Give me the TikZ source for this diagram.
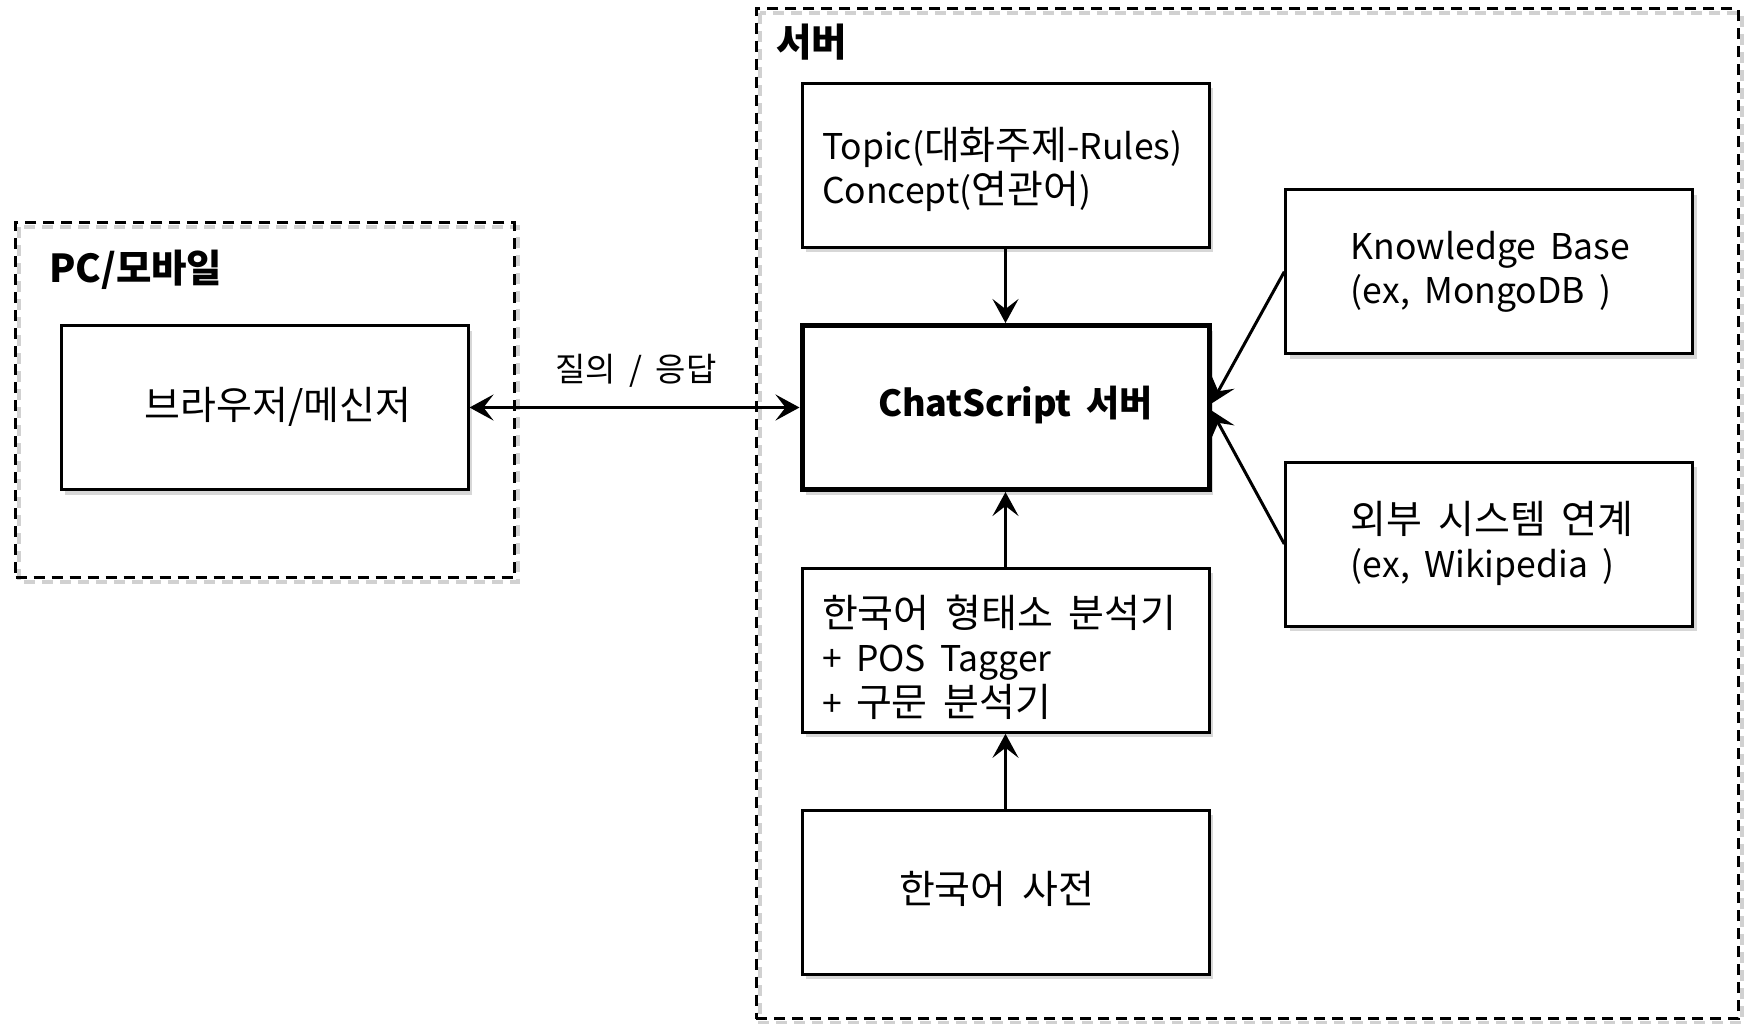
\documentclass[tikz,border=0pt]{standalone}
\usepackage{fontspec}
\setmainfont[WordSpace=1.8]{Noto Sans CJK KR}
\usetikzlibrary{arrows.meta,shadows}
\newcommand\hg[1]{{\fontsize{39}{44.5}\selectfont#1}}

\begin{document}
\begin{tikzpicture}[x=1pt,y=-1pt,
  box/.style={draw=black, line width=3pt, fill=white, minimum width=407pt, minimum height=164pt, inner sep=0pt,
    drop shadow={shadow xshift=4pt, shadow yshift=-5pt, fill=black!35, opacity=0.45}},
  mainbox/.style={box, line width=5pt},
  group/.style={draw=black, line width=3pt, dash pattern=on 11pt off 7pt, minimum width=#1, inner sep=0pt},
  groupshadow/.style={draw=black!18, line width=4pt, dash pattern=on 11pt off 7pt},
  txt/.style={font=\fontsize{35.5}{44.5}\selectfont, inner sep=0pt, align=left},
  boldtxt/.style={font=\fontsize{36}{44}\selectfont\bfseries, inner sep=0pt},
  grouptxt/.style={font=\fontsize{38.5}{44}\selectfont\bfseries, inner sep=0pt},
  small/.style={font=\fontsize{33}{38}\selectfont, inner sep=0pt},
  arr/.style={line width=3pt, -{Stealth[length=24pt, width=26pt, inset=10pt]}},
  darr/.style={line width=3pt, {Stealth[length=24pt, width=26pt, inset=10pt]}-{Stealth[length=24pt, width=26pt, inset=10pt]}}
]
\useasboundingbox (0,0) rectangle (1746,1023);

% group shadows
\draw[groupshadow] (19,227) rectangle (518,582);
\draw[groupshadow] (760,13) rectangle (1742,1023);

% groups
\node[group=498.8pt, minimum height=355.2pt] (pc) at (265,400.3) {};
\node[group=982.1pt, minimum height=1010pt] (srv) at (1247.2,513.9) {};
\node[grouptxt, anchor=west] (pcT) at (49,269.5) {PC/모바일};
\node[grouptxt, anchor=west] (srvT) at (776,42.3) {서버};

% boxes
\node[box] (browser) at (264.5,407.5) {};
\node[box] (topic) at (1005.5,165.4) {};
\node[mainbox] (chat) at (1005.5,407.5) {};
\node[box] (kb) at (1489.3,271.7) {};
\node[box] (ext) at (1489.3,544) {};
\node[box] (morph) at (1005.5,650.3) {};
\node[box] (dict) at (1005.5,892) {};

% texts
\node[txt] (browserT) at (277.8,406.4) {\hg{브라우저/메신저}};
\node[txt, anchor=west] (topicT) at (821.8,169.2) {Topic(\hg{대화주제}-Rules)\\Concept(\hg{연관어})};
\node[boldtxt] (chatT) at (1015.5,405.3) {ChatScript 서버};
\node[txt, anchor=west] (kbT) at (1350.7,271.6) {Knowledge Base\\(ex, MongoDB )};
\node[txt, anchor=west] (extT) at (1350.7,543.3) {\hg{외부 시스템 연계}\\(ex, Wikipedia )};
\node[txt, anchor=west] (morphT) at (821.8,657) {\hg{한국어 형태소 분석기}\\+ POS Tagger\\+ \hg{구문 분석기}};
\node[txt] (dictT) at (996.6,888.6) {\hg{한국어 사전}};

% connectors
\draw[darr] (browser.east) -- (chat.west);
\node[small] (qa) at (636,370.8) {질의 / 응답};
\draw[arr] (topic) -- (chat);
\draw[arr] (morph) -- (chat);
\draw[arr] (dict) -- (morph);
\draw[arr] (kb.west) -- ([yshift=4pt]chat.east);
\draw[arr] (ext.west) -- ([yshift=-3pt]chat.east);
\end{tikzpicture}
\end{document}
